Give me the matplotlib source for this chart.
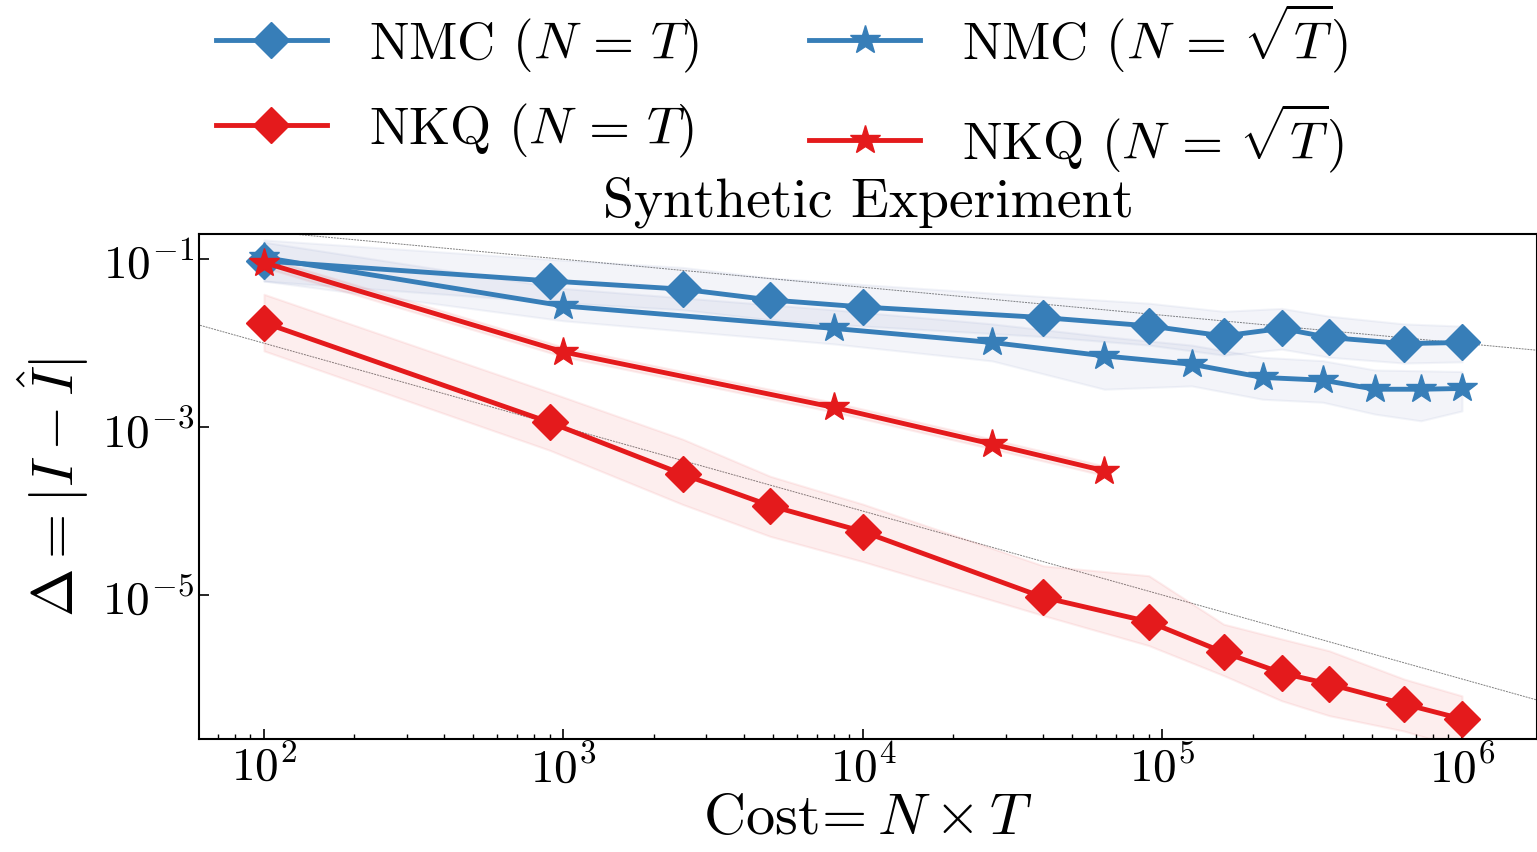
import numpy as np
import matplotlib
matplotlib.use('Agg')
from matplotlib import pyplot as plt

plt.rcParams['font.family'] = 'serif'
plt.rcParams['font.serif'] = ['cmr10']
plt.rcParams['mathtext.fontset'] = 'cm'
plt.rcParams['axes.formatter.use_mathtext'] = True

blue = '#377eb8'
red = '#e41a1c'

# cost = N x T
cost_nt = [1e2, 9e2, 2.5e3, 4.9e3, 1e4, 4e4, 9e4, 1.6e5, 2.5e5, 3.6e5, 6.4e5, 1e6]
cost_sqrt = [1e2, 1e3, 8e3, 2.7e4, 6.4e4, 1.25e5, 2.16e5, 3.43e5, 5.12e5, 7.29e5, 1e6]
cost_nkq_sqrt = [1e2, 1e3, 8e3, 2.7e4, 6.4e4]

# NMC, N = T
nmc_nt = [0.0955, 0.0552, 0.0440, 0.0328, 0.0270, 0.0202, 0.0161, 0.0122, 0.0150, 0.0117, 0.0099, 0.0102]
nmc_nt_hi = [0.17, 0.10, 0.080, 0.060, 0.050, 0.036, 0.030, 0.024, 0.026, 0.021, 0.017, 0.016]
nmc_nt_lo = [0.055, 0.031, 0.025, 0.019, 0.016, 0.012, 0.0095, 0.0072, 0.0085, 0.0068, 0.0058, 0.006]

# NMC, N = sqrt(T)
nmc_sq = [0.105, 0.0278, 0.0150, 0.0102, 0.00706, 0.00562, 0.00391, 0.00363, 0.00283, 0.00283, 0.00289]
nmc_sq_hi = [0.16, 0.045, 0.025, 0.017, 0.012, 0.0095, 0.0068, 0.0062, 0.0048, 0.0047, 0.0046]
nmc_sq_lo = [0.055, 0.0185, 0.0098, 0.00615, 0.00283, 0.0031, 0.00215, 0.00198, 0.00143, 0.00119, 0.00156]

# NKQ, N = T
nkq_nt = [0.0176, 0.00114, 0.000275, 0.000116, 5.7e-5, 9.4e-6, 4.81e-6, 2.08e-6, 1.18e-6, 8.7e-7, 5.04e-7, 3.34e-7]
nkq_nt_hi = [0.0383, 0.0026, 0.00072, 0.00026, 0.000121, 2.23e-5, 1.7e-5, 4.5e-6, 3.0e-6, 2.17e-6, 1.0e-6, 6.3e-7]
nkq_nt_lo = [0.0081, 0.00053, 0.00012, 5e-5, 2.5e-5, 5.7e-6, 2.5e-6, 1.1e-6, 5.5e-7, 3.66e-7, 2.4e-7, 1.5e-7]

# NKQ, N = sqrt(T)
nkq_sq = [0.0914, 0.00787, 0.00172, 0.000628, 0.000302]
nkq_sq_hi = [0.105, 0.0090, 0.00197, 0.00072, 0.000345]
nkq_sq_lo = [0.080, 0.0069, 0.00151, 0.00055, 0.000265]

# reference rates
rate_slow = -1.0 / 3.0
rate_fast = -1.0

fig = plt.figure(figsize=(15.37, 8.53), dpi=100)
ax = fig.add_axes([0.1295, 0.1325, 0.8705, 0.592])

xs = np.array([30.0, 5e6])
ax.plot(xs, xs ** rate_slow, color='grey', ls=(0, (2, 1)), lw=0.7, zorder=1)
ax.plot(xs, xs ** rate_fast, color='grey', ls=(0, (2, 1)), lw=0.7, zorder=1)

band_blue = '#5a6fb0'
ax.fill_between(cost_nt, nmc_nt_lo, nmc_nt_hi, color=band_blue, alpha=0.07, lw=1.5)
ax.fill_between(cost_sqrt, nmc_sq_lo, nmc_sq_hi, color=band_blue, alpha=0.07, lw=1.5)
ax.fill_between(cost_nt, nkq_nt_lo, nkq_nt_hi, color=red, alpha=0.07, lw=1.5)
ax.fill_between(cost_nkq_sqrt, nkq_sq_lo, nkq_sq_hi, color=red, alpha=0.07, lw=1.5)

h1, = ax.plot(cost_nt, nmc_nt, color=blue, marker='D', ms=18, lw=3.5, label=r'NMC $(N\,=\,T)$')
h3, = ax.plot(cost_sqrt, nmc_sq, color=blue, marker='*', ms=22, lw=3.5, label=r'NMC $(N\,=\,\sqrt{T})$')
h2, = ax.plot(cost_nt, nkq_nt, color=red, marker='D', ms=18, lw=3.5, label=r'NKQ $(N\,=\,T)$')
h4, = ax.plot(cost_nkq_sqrt, nkq_sq, color=red, marker='*', ms=22, lw=3.5, label=r'NKQ $(N\,=\,\sqrt{T})$')

ax.set_xscale('log')
ax.set_yscale('log')
ax.set_xlim(60.7, 1.78e6)
ax.set_ylim(1.93e-7, 0.2)
ax.set_yticks([1e-1, 1e-3, 1e-5])
ax.yaxis.set_minor_locator(matplotlib.ticker.NullLocator())

ax.tick_params(which='both', direction='in', labelsize=34)
ax.tick_params(which='major', length=7, width=1.2)
ax.tick_params(which='minor', length=3.5, width=1)
for s in ax.spines.values():
    s.set_linewidth(1.5)

ax.set_xlabel(r'Cost$\!= N \times T$', fontsize=42, labelpad=2)
ax.set_ylabel(r'$\Delta = |I - \hat{I}|$', fontsize=42, labelpad=8)
ax.set_title('Synthetic Experiment', fontsize=40, pad=13)

fig.legend([h1, h2, h3, h4], [h1.get_label(), h2.get_label(), h3.get_label(), h4.get_label()],
           ncol=2, loc='upper left', bbox_to_anchor=(0.137, 1.004), frameon=False,
           fontsize=38, handlelength=2.1, handletextpad=0.8, columnspacing=2.1,
           labelspacing=0.5, borderpad=0.1, borderaxespad=0.0, numpoints=1)

fig.savefig('out.png', dpi=100)
